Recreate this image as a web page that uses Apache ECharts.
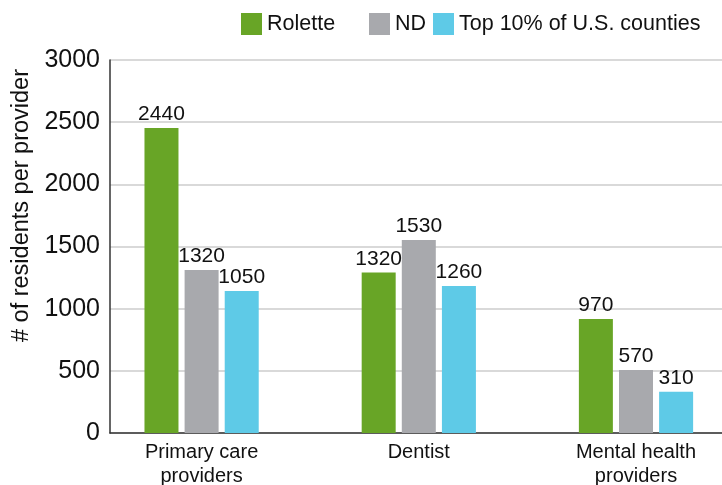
<!DOCTYPE html>
<html><head><meta charset="utf-8">
<script src="https://cdn.jsdelivr.net/npm/echarts@6/dist/echarts.min.js"></script>
<style>html,body{margin:0;padding:0;background:#fff}#c{width:722px;height:485px}</style>
</head><body><div id="c"></div>
<script>
var categories = ['Primary care\nproviders', 'Dentist', 'Mental health\nproviders'];
var seriesNames = ['Rolette', 'ND', 'Top 10% of U.S. counties'];
var rolette = [2454, 1290, 917];
var nd = [1311, 1553, 507];
var top10 = [1142, 1183, 332];
var roletteLabels = ['2440', '1320', '970'];
var ndLabels = ['1320', '1530', '570'];
var top10Labels = ['1050', '1260', '310'];
var yTicks = [0, 500, 1000, 1500, 2000, 2500, 3000];
var colors = ['#68A526', '#A8A9AD', '#5ECAE7'];
var FONT = '"Liberation Sans", Arial, Helvetica, sans-serif';

var chart = echarts.init(document.getElementById('c'));
function mk(name, data, labels, color) {
  return {
    name: name, type: 'bar', xAxisIndex: 0, yAxisIndex: 0,
    data: data, barWidth: 34, barGap: '18%',
    itemStyle: { color: color },
    label: { show: true, position: 'top', distance: 3, fontFamily: FONT, fontSize: 21, color: '#111',
      formatter: function (p) { return labels[p.dataIndex]; } }
  };
}
function lg(name, left) {
  return { data: [name], left: left, top: 13, padding: 0, itemWidth: 21, itemHeight: 22, icon: 'rect',
    textStyle: { fontFamily: FONT, fontSize: 21.5, color: '#111' }, selectedMode: false };
}
chart.setOption({
  animation: false,
  legend: [lg(seriesNames[0], 241), lg(seriesNames[1], 369), lg(seriesNames[2], 433)],
  grid: [
    { left: 93, width: 651.6, top: 60, bottom: 52, outerBoundsMode: 'none', containLabel: false },
    { left: 110, right: 0, top: 60, bottom: 52, outerBoundsMode: 'none', containLabel: false }
  ],
  xAxis: [
    { type: 'category', gridIndex: 0, data: categories,
      axisLine: { show: false }, axisTick: { show: false },
      axisLabel: { fontFamily: FONT, fontSize: 20, lineHeight: 24, color: '#111', margin: 7, interval: 0 } },
    { type: 'value', gridIndex: 1, min: 0, max: 1,
      axisLine: { show: true, lineStyle: { color: '#333', width: 1.5 } },
      axisTick: { show: false }, axisLabel: { show: false }, splitLine: { show: false } }
  ],
  yAxis: [
    { type: 'value', gridIndex: 0, min: yTicks[0], max: yTicks[yTicks.length - 1], interval: 500, show: false },
    { type: 'value', gridIndex: 1, min: yTicks[0], max: yTicks[yTicks.length - 1], interval: 500,
      axisLine: { show: true, lineStyle: { color: '#333', width: 1.5 } },
      axisTick: { show: false },
      axisLabel: { fontFamily: FONT, fontSize: 25, color: '#111', margin: 10,
        formatter: function (v) { return String(v); } },
      splitLine: { show: true, lineStyle: { color: '#d9d9d9', width: 2 } } }
  ],
  graphic: [{
    type: 'text', x: 22, y: 205.5, rotation: Math.PI / 2,
    style: { text: '# of residents per provider', fontFamily: FONT, fontSize: 23.5, fill: '#111',
      textAlign: 'center', textVerticalAlign: 'middle' }
  }],
  series: [
    mk(seriesNames[0], rolette, roletteLabels, colors[0]),
    mk(seriesNames[1], nd, ndLabels, colors[1]),
    mk(seriesNames[2], top10, top10Labels, colors[2])
  ]
});
</script></body></html>
